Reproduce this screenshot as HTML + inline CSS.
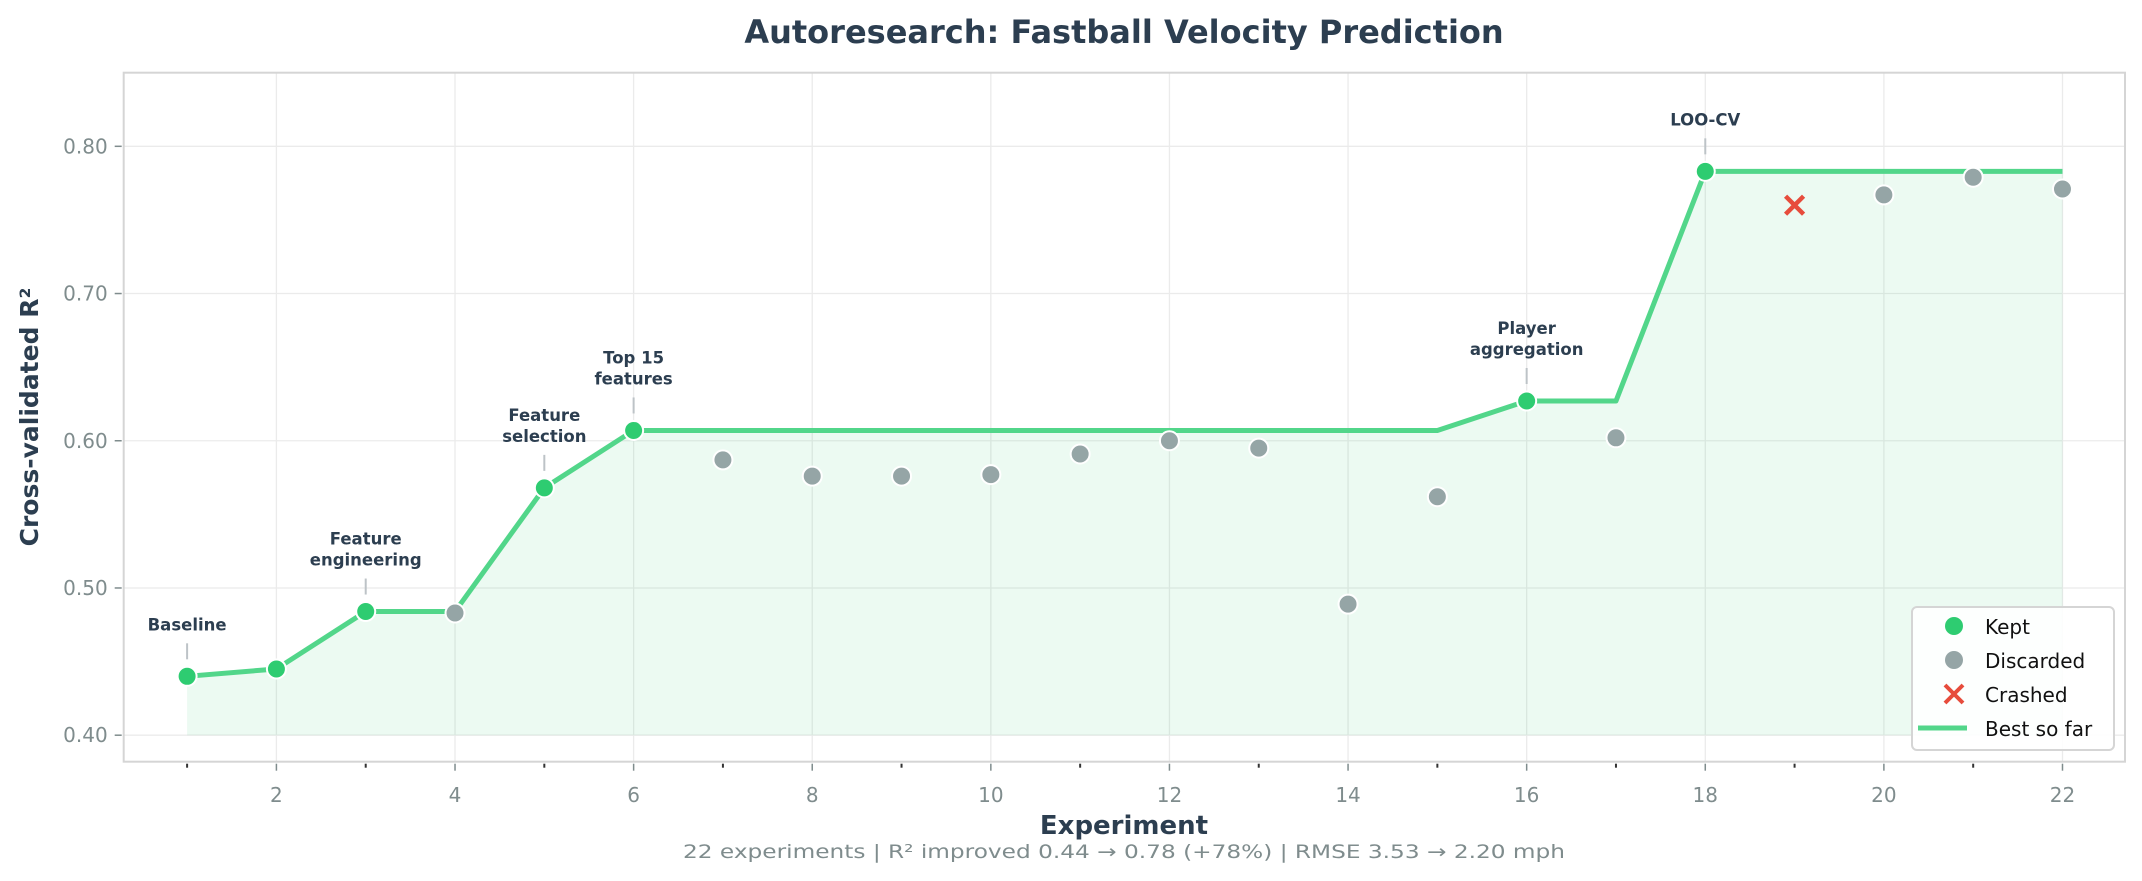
<!DOCTYPE html>
<html><head><meta charset="utf-8">
<style>
html,body{margin:0;padding:0;background:#fff;}
svg{display:block;font-family:"DejaVu Sans","Liberation Sans",sans-serif;}
</style></head>
<body>
<svg id="chart" width="2142" height="881" viewBox="0 0 2142 881" xmlns="http://www.w3.org/2000/svg">
<rect x="0" y="0" width="2142" height="881" fill="#fff"/>
<text x="1124" y="43" text-anchor="middle" font-size="32" font-weight="bold" fill="#2c3e50">Autoresearch: Fastball Velocity Prediction</text>
<g id="grid"></g>
<g id="fill"></g>
<g id="axes"></g>
<g id="marks"></g>
<g id="annots"></g>
<text transform="translate(38,417) rotate(-90)" text-anchor="middle" font-size="25" font-weight="bold" fill="#2c3e50">Cross-validated R²</text>
<text x="1124" y="834" text-anchor="middle" font-size="26" font-weight="bold" fill="#2c3e50">Experiment</text>
<text x="1124" y="858" text-anchor="middle" font-size="19" fill="#7f8c8d" textLength="882" lengthAdjust="spacingAndGlyphs">22 experiments  |  R² improved 0.44 → 0.78 (+78%)  |  RMSE 3.53 → 2.20 mph</text>
<g id="legend">
<rect x="1912" y="607" width="202" height="143" rx="5" fill="#fff" fill-opacity="0.9" stroke="#d5d5d5" stroke-width="2"/>
<circle cx="1954" cy="626" r="9" fill="#2ecc71"/>
<text x="1985" y="634" font-size="20" fill="#111">Kept</text>
<circle cx="1954" cy="660" r="9" fill="#95a5a6"/>
<text x="1985" y="668" font-size="20" fill="#111">Discarded</text>
<path d="M1945 685 L1963 703 M1963 685 L1945 703" stroke="#e74c3c" stroke-width="4"/>
<text x="1985" y="702" font-size="20" fill="#111">Crashed</text>
<line x1="1918" y1="728" x2="1967" y2="728" stroke="#52d68a" stroke-width="5"/>
<text x="1985" y="736" font-size="20" fill="#111">Best so far</text>
</g>
</svg>
<script>
const experiments = [1,2,3,4,5,6,7,8,9,10,11,12,13,14,15,16,17,18,19,20,21,22];
const r2Values = [0.440,0.445,0.484,0.483,0.568,0.607,0.587,0.576,0.576,0.577,0.591,0.600,0.595,0.489,0.562,0.627,0.602,0.783,0.760,0.767,0.779,0.771];
const status = ["kept","kept","kept","discarded","kept","kept","discarded","discarded","discarded","discarded","discarded","discarded","discarded","discarded","discarded","kept","discarded","kept","crashed","discarded","discarded","discarded"];
const annotationExps = [1,3,5,6,16,18];
const annotationLabels = [["Baseline"],["Feature","engineering"],["Feature","selection"],["Top 15","features"],["Player","aggregation"],["LOO-CV"]];
const yTicks = [0.40,0.50,0.60,0.70,0.80];
const yTickLabels = ["0.40","0.50","0.60","0.70","0.80"];
const xTicks = [2,4,6,8,10,12,14,16,18,20,22];

const L=123.7,R=2125,T=72.7,B=761.7;
const X0=0.29,X1=22.7,Y0=0.382,Y1=0.85;
function sx(v){return L+(v-X0)/(X1-X0)*(R-L);}
function sy(v){return B-(v-Y0)/(Y1-Y0)*(B-T);}
const NS="http://www.w3.org/2000/svg";
function mk(tag,attrs,parent,txt){const e=document.createElementNS(NS,tag);for(const k in attrs)e.setAttribute(k,attrs[k]);if(txt!==undefined)e.textContent=txt;parent.appendChild(e);return e;}
const grid=document.getElementById('grid'),axes=document.getElementById('axes'),marks=document.getElementById('marks'),ann=document.getElementById('annots'),fillG=document.getElementById('fill');

// grid
yTicks.forEach((t,i)=>{
  const g=mk('line',{x1:L,x2:R,y1:sy(t),y2:sy(t),stroke:'#ebebeb','stroke-width':1.3},grid);
  
  
  const tk=mk('line',{x1:L-9,x2:L-2,y1:sy(t),y2:sy(t),stroke:'#7f8c8d','stroke-width':1.5},axes);
  
  
  const lb=mk('text',{x:L-16,y:sy(t)+7,'text-anchor':'end','font-size':20,fill:'#7f8c8d'},axes,yTickLabels[i]);
  
  
});
experiments.forEach(x=>{
  const major=xTicks.indexOf(x)>=0;
  if(major){
    const g=mk('line',{x1:sx(x),x2:sx(x),y1:T,y2:B,stroke:'#ebebeb','stroke-width':1.3},grid);
    
    
    const lb=mk('text',{x:sx(x),y:802,'text-anchor':'middle','font-size':20,fill:'#7f8c8d'},axes,String(x));
    
    
  }
  const tk=mk('line',{x1:sx(x),x2:sx(x),y1:B+2,y2:B+(major?9:6),stroke:major?'#7f8c8d':'#333','stroke-width':major?1.5:2},axes);
  
  
});
const frame=mk('rect',{x:L,y:T,width:R-L,height:B-T,fill:'none',stroke:'#d5d5d5','stroke-width':2},axes);



// best so far
let best=-Infinity;const bestPts=[];
experiments.forEach((x,i)=>{if(status[i]==='kept'&&r2Values[i]>best)best=r2Values[i];bestPts.push([sx(x),sy(best)]);});
let d='M'+sx(experiments[0])+' '+sy(0.40);
bestPts.forEach(p=>d+=' L'+p[0]+' '+p[1]);
d+=' L'+sx(experiments[experiments.length-1])+' '+sy(0.40)+' Z';
const area=mk('path',{d:d,fill:'#2ecc71','fill-opacity':0.09},fillG);


const line=mk('polyline',{points:bestPts.map(p=>p.join(',')).join(' '),fill:'none',stroke:'#52d68a','stroke-width':5,'stroke-linejoin':'round'},marks);



experiments.forEach((x,i)=>{
  const cx=sx(x),cy=sy(r2Values[i]);
  if(status[i]==='crashed'){
    const c=mk('path',{d:`M${cx-9} ${cy-9} L${cx+9} ${cy+9} M${cx+9} ${cy-9} L${cx-9} ${cy+9}`,stroke:'#e74c3c','stroke-width':4.5},marks);
    
    
  } else {
    const c=mk('circle',{cx:cx,cy:cy,r:9.5,fill:status[i]==='kept'?'#2ecc71':'#95a5a6',stroke:'#fff','stroke-width':2},marks);
    
    
  }
});

annotationExps.forEach((e,k)=>{
  const i=experiments.indexOf(e);const cx=sx(e),cy=sy(r2Values[i]);
  const c=mk('line',{x1:cx,x2:cx,y1:cy-33,y2:cy-17,stroke:'#bdc3c7','stroke-width':2},ann);
  
  
  const lines=annotationLabels[k];
  lines.forEach((t,j)=>{
    const yy=cy-46-(lines.length-1-j)*21;
    const tx=mk('text',{x:cx,y:yy,'text-anchor':'middle','font-size':16.5,'font-weight':'bold',fill:'#2c3e50'},ann,t);
    
    
  });
});
</script>
</body></html>
